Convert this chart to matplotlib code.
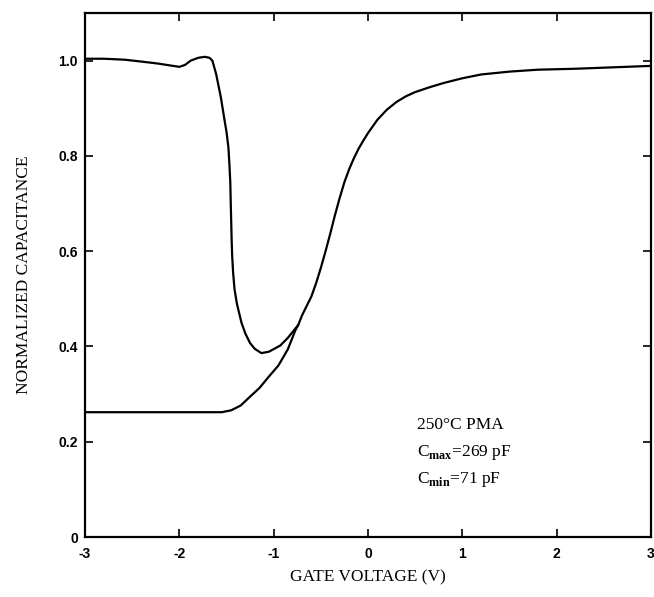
import matplotlib
matplotlib.use("Agg")
import matplotlib.pyplot as plt

# quasi-static curve (upper), ends where it merges with the HF curve
qs_v = [-3.0, -2.8, -2.58, -2.4, -2.23, -2.1, -2.0, -1.94, -1.88, -1.8, -1.73,
        -1.68, -1.65, -1.61, -1.56, -1.52, -1.50, -1.48, -1.47, -1.46, -1.455,
        -1.45, -1.445, -1.44, -1.43, -1.415, -1.39, -1.36, -1.34, -1.30, -1.25,
        -1.20, -1.13, -1.05, -0.93, -0.85, -0.74]
qs_c = [1.004, 1.004, 1.002, 0.998, 0.994, 0.990, 0.987, 0.991, 1.0, 1.006, 1.008,
        1.006, 1.0, 0.972, 0.923, 0.874, 0.85, 0.818, 0.785, 0.745, 0.70,
        0.66, 0.62, 0.59, 0.555, 0.52, 0.49, 0.465, 0.449, 0.427, 0.407,
        0.395, 0.386, 0.389, 0.402, 0.418, 0.445]

# high-frequency curve (lower)
hf_v = [-3.0, -1.55, -1.45, -1.35, -1.27, -1.15, -1.05, -0.95, -0.85, -0.77,
        -0.74, -0.7, -0.6, -0.55, -0.5, -0.45, -0.4, -0.35, -0.3, -0.25, -0.2,
        -0.15, -0.1, -0.05, 0.0, 0.1, 0.2, 0.3, 0.4, 0.5, 0.65, 0.8, 1.0, 1.2,
        1.5, 1.8, 2.2, 2.6, 3.0]
hf_c = [0.262, 0.262, 0.266, 0.276, 0.291, 0.313, 0.337, 0.36, 0.394, 0.434,
        0.445, 0.465, 0.505, 0.533, 0.565, 0.60, 0.637, 0.676, 0.712, 0.745, 0.772,
        0.795, 0.815, 0.832, 0.848, 0.876, 0.897, 0.913, 0.925, 0.934, 0.944,
        0.953, 0.963, 0.971, 0.977, 0.981, 0.983, 0.986, 0.989]

x_ticks = [-3, -2, -1, 0, 1, 2, 3]
x_labels = ["-3", "-2", "-1", "0", "1", "2", "3"]
y_ticks = [0, 0.2, 0.4, 0.6, 0.8, 1.0]
y_labels = ["0", "0.2", "0.4", "0.6", "0.8", "1.0"]

serif = ["Liberation Serif", "DejaVu Serif"]
sans = ["Liberation Sans", "DejaVu Sans"]

plt.rcParams["mathtext.fontset"] = "custom"
plt.rcParams["mathtext.rm"] = "Liberation Serif"
plt.rcParams["mathtext.bf"] = "Liberation Serif:bold"

fig = plt.figure(figsize=(6.54, 5.97), dpi=100)
ax = fig.add_axes([0.130, 0.1005, 0.8654, 0.8777])

ax.plot(qs_v, qs_c, color="black", lw=1.6)
ax.plot(hf_v, hf_c, color="black", lw=1.6)

ax.set_xlim(-3, 3)
ax.set_ylim(0, 1.1)

ax.set_xticks(x_ticks)
ax.set_xticklabels(x_labels, fontfamily=sans, fontweight="bold", fontsize=10)
ax.set_yticks(y_ticks)
ax.set_yticklabels(y_labels, fontfamily=sans, fontweight="bold", fontsize=10)
ax.tick_params(direction="in", length=6, width=1.2, top=True, right=True)
ax.tick_params(axis="x", pad=7)
ax.tick_params(axis="y", pad=5)

for s in ax.spines.values():
    s.set_linewidth(1.6)

ax.set_xlabel("GATE VOLTAGE (V)", fontfamily=serif, fontsize=12.5, labelpad=6)
ax.set_ylabel("NORMALIZED CAPACITANCE", fontfamily=serif, fontsize=12.5, labelpad=19)

ax.text(0.52, 0.226, "250°C PMA", fontfamily=serif, fontsize=12.5)
ax.text(0.52, 0.170, r"C$_{\mathbf{max}}$=269 pF", fontfamily=serif, fontsize=12.5)
ax.text(0.52, 0.114, r"C$_{\mathbf{min}}$=71 pF", fontfamily=serif, fontsize=12.5)

plt.savefig("out.png", dpi=100)
plt.close()
